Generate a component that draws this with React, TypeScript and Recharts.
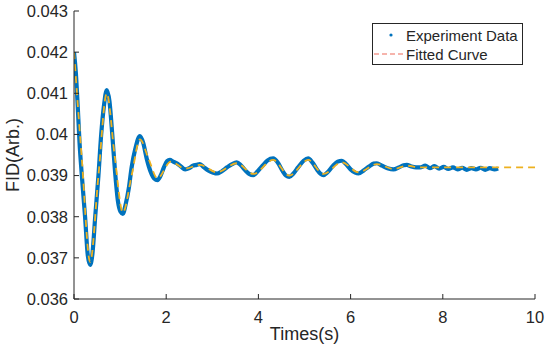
import { LineChart, Line, XAxis, YAxis } from "recharts";

// experiment samples (time in s, FID in arb. units)
const expT = [
  0, 0.04, 0.08, 0.12, 0.17, 0.24, 0.3, 0.35, 0.4, 0.46, 0.53, 0.59, 0.65, 0.71,
  0.77, 0.83, 0.89, 0.95, 1.01, 1.06, 1.12, 1.19, 1.25, 1.33, 1.43, 1.5, 1.58,
  1.66, 1.74, 1.81, 1.88, 1.95, 2.02, 2.08, 2.15, 2.23, 2.32, 2.41, 2.5, 2.58,
  2.66, 2.73, 2.82, 2.92, 3.02, 3.1, 3.2, 3.32, 3.43, 3.53, 3.62, 3.72, 3.8,
  3.89, 3.98, 4.1, 4.2, 4.32, 4.42, 4.52, 4.6, 4.67, 4.76, 4.86, 4.98, 5.08,
  5.17, 5.27, 5.35, 5.41, 5.5, 5.62, 5.72, 5.81, 5.9, 6.0, 6.1, 6.17, 6.28,
  6.4, 6.5, 6.57, 6.68, 6.8, 6.93, 7.05, 7.15, 7.22, 7.32, 7.42, 7.51, 7.62,
  7.72, 7.82, 7.92, 8.02, 8.12, 8.22, 8.32, 8.42, 8.52, 8.62, 8.72, 8.82,
  8.92, 9.02, 9.12, 9.2,
];
const expV = [
  0.042, 0.0415, 0.0407, 0.0398, 0.039, 0.038, 0.03705, 0.03683, 0.0371, 0.038,
  0.039, 0.04, 0.0407, 0.04108, 0.0408, 0.04, 0.0391, 0.0384, 0.03812, 0.03807,
  0.0383, 0.0387, 0.0392, 0.03965, 0.03996, 0.0398, 0.0394, 0.0391, 0.03893,
  0.03889, 0.039, 0.0392, 0.03935, 0.03938, 0.03934, 0.0393, 0.03922, 0.03915,
  0.03918, 0.03924, 0.03926, 0.03928, 0.0392, 0.03912, 0.03907, 0.03905,
  0.0391, 0.0392, 0.03928, 0.03932, 0.03925, 0.03912, 0.03904, 0.03901,
  0.0391, 0.03925, 0.03937, 0.03942, 0.03932, 0.03912, 0.039, 0.03897,
  0.03905, 0.0392, 0.03936, 0.03942, 0.03932, 0.03915, 0.03904, 0.03901,
  0.03908, 0.03924, 0.03934, 0.03936, 0.03928, 0.03915, 0.03907, 0.03905,
  0.03912, 0.03922, 0.03929, 0.0393, 0.03924, 0.03918, 0.03915, 0.0392,
  0.03925, 0.03926, 0.03922, 0.0392, 0.0392, 0.03924, 0.03918, 0.03923,
  0.03917, 0.03921, 0.03916, 0.0392, 0.03915, 0.03919, 0.03914, 0.03918,
  0.03915, 0.03919, 0.03914, 0.03918, 0.03915, 0.03917,
];

// fitted curve (extends to 10 s)
const fitT = [
  0, 0.17, 0.35, 0.53, 0.71, 0.88, 1.06, 1.25, 1.43, 1.62, 1.81, 2.1, 2.41,
  2.73, 3.1, 3.53, 3.89, 4.32, 4.67, 5.08, 5.41, 5.81, 6.17, 6.57, 6.93, 7.22,
  7.51, 8, 9, 10,
];
const fitV = [
  0.042, 0.0394, 0.0369, 0.039, 0.041, 0.0395, 0.0381, 0.039, 0.03988,
  0.0394, 0.03893, 0.03934, 0.03917, 0.03926, 0.03908, 0.0393, 0.03904,
  0.03938, 0.039, 0.03938, 0.03904, 0.03932, 0.03908, 0.03928, 0.03916,
  0.03924, 0.0392, 0.0392, 0.0392, 0.0392,
];

const xTicks = [0, 2, 4, 6, 8, 10];
const yTicks = [0.036, 0.037, 0.038, 0.039, 0.04, 0.041, 0.042, 0.043];

const expData = expT.map((t, i) => ({ t, v: expV[i] }));
const fitData = fitT.map((t, i) => ({ t, v: fitV[i] }));

const ink = "#262626";
const font = "'Liberation Sans', Arial, sans-serif";

const fmtY = (v: number) => String(Number(v.toFixed(3)));

export default function App() {
  return (
    <div style={{ position: "absolute", left: 0, top: 0, width: 550, height: 358, background: "#fff", fontFamily: font }}>
      <LineChart
        width={550}
        height={358}
        margin={{ top: 11, right: 15, bottom: 14, left: 10 }}
      >
        <XAxis
          dataKey="t"
          type="number"
          domain={[0, 10]}
          ticks={xTicks}
          allowDataOverflow
          height={45}
          stroke={ink}
          tickSize={-5}
          tickMargin={17}
          tick={{ fill: ink, fontSize: 16.5, fontFamily: font }}
          label={{
            content: (props: any) => {
              const vb = props.viewBox;
              return (
                <text
                  x={vb.x + vb.width / 2}
                  y={334}
                  textAnchor="middle"
                  dominantBaseline="central"
                  fill={ink}
                  fontSize={18}
                  fontFamily={font}
                >
                  Times(s)
                </text>
              );
            },
          }}
        />
        <XAxis
          xAxisId="top"
          orientation="top"
          dataKey="t"
          type="number"
          domain={[0, 10]}
          ticks={xTicks}
          allowDataOverflow
          height={0}
          stroke={ink}
          tickSize={-5}
          tick={false}
        />
        <YAxis
          type="number"
          domain={[0.036, 0.043]}
          ticks={yTicks}
          allowDataOverflow
          width={64}
          stroke={ink}
          tickSize={-5}
          tickMargin={11}
          tickFormatter={fmtY}
          tick={{ fill: ink, fontSize: 16.5, fontFamily: font }}
          label={{
            content: (props: any) => {
              const vb = props.viewBox;
              const cx = 13;
              const cy = vb.y + vb.height / 2;
              return (
                <text
                  x={cx}
                  y={cy}
                  transform={`rotate(-90, ${cx}, ${cy})`}
                  textAnchor="middle"
                  dominantBaseline="central"
                  fill={ink}
                  fontSize={18}
                  fontFamily={font}
                >
                  FID(Arb.)
                </text>
              );
            },
          }}
        />
        <YAxis
          yAxisId="right"
          orientation="right"
          type="number"
          domain={[0.036, 0.043]}
          ticks={yTicks}
          allowDataOverflow
          width={0}
          stroke={ink}
          tickSize={-5}
          tick={false}
        />
        <Line
          data={expData}
          dataKey="v"
          type="monotone"
          stroke="#0072BD"
          strokeWidth={4.2}
          dot={false}
          isAnimationActive={false}
        />
        <Line
          data={fitData}
          dataKey="v"
          type="monotone"
          stroke="#EDB120"
          strokeWidth={1.8}
          strokeDasharray="7 5"
          dot={false}
          isAnimationActive={false}
        />
      </LineChart>
      <div
        style={{
          position: "absolute",
          left: 372,
          top: 23,
          width: 151,
          height: 42,
          border: `1px solid ${ink}`,
          background: "#fff",
          fontSize: 15,
          color: ink,
          boxSizing: "border-box",
        }}
      >
        <div style={{ position: "absolute", left: 0, top: 2, height: 18, display: "flex", alignItems: "center" }}>
          <svg width={33} height={18}>
            <circle cx={18} cy={9} r={1.6} fill="#0072BD" />
          </svg>
          <span>Experiment Data</span>
        </div>
        <div style={{ position: "absolute", left: 0, top: 21, height: 18, display: "flex", alignItems: "center" }}>
          <svg width={33} height={18}>
            <line x1={1} y1={9} x2={31} y2={9} stroke="#EE6B5B" strokeWidth={1.2} strokeDasharray="5 3" />
          </svg>
          <span>Fitted Curve</span>
        </div>
      </div>
    </div>
  );
}
